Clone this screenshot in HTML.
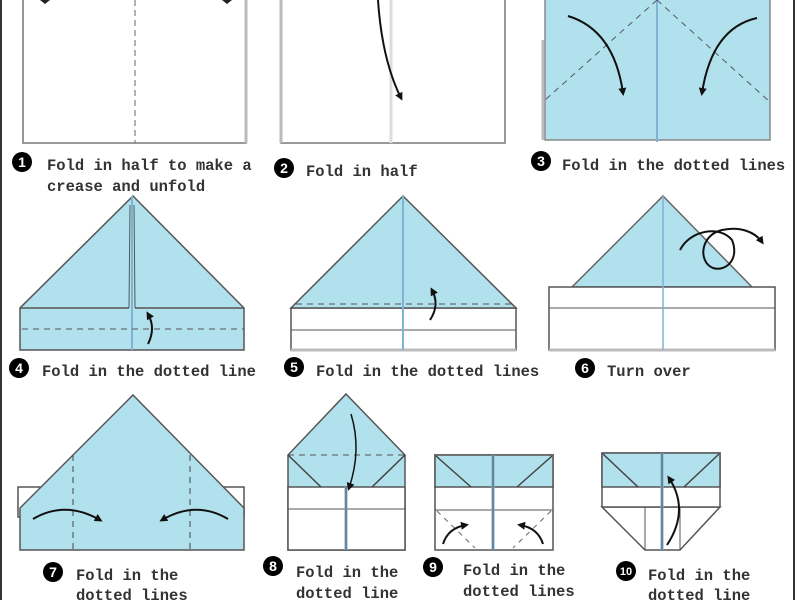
<!DOCTYPE html>
<html><head><meta charset="utf-8"><style>
html,body{margin:0;padding:0;background:#fff;width:800px;height:600px;overflow:hidden}
svg text{font-family:"Liberation Mono",monospace;font-size:15.5px;font-weight:bold;fill:#333}
svg text.n{fill:#fff;font-family:"Liberation Sans",sans-serif;font-size:14px;text-anchor:middle}
</style></head><body>
<svg width="800" height="600" viewBox="0 0 800 600" xmlns="http://www.w3.org/2000/svg">
<defs><marker id="a" markerWidth="8" markerHeight="8" refX="5" refY="4" orient="auto" markerUnits="userSpaceOnUse"><path d="M0,0 L8,4 L0,8 z" fill="#111"/></marker></defs>
<g stroke-linejoin="miter">
<line x1="1" y1="0" x2="1" y2="600" stroke="#333" stroke-width="2"/>
<line x1="794" y1="0" x2="794" y2="600" stroke="#333" stroke-width="2"/>

<!-- panel 1 -->
<rect x="23" y="-5" width="223" height="148" fill="#fff" stroke="#777" stroke-width="1.5"/>
<line x1="246" y1="0" x2="246" y2="143" stroke="#bbb" stroke-width="3"/>
<line x1="135" y1="0" x2="135" y2="143" stroke="#666" stroke-dasharray="6,4"/>
<path d="M40,0 L50,0 L45,4z" fill="#222"/><path d="M222,0 L232,0 L227,4z" fill="#222"/>
<circle cx="22" cy="162" r="10" fill="#000"/><text class="n" x="22" y="167">1</text>
<text x="47" y="170">Fold in half to make a</text>
<text x="47" y="191">crease and unfold</text>

<!-- panel 2 -->
<rect x="281" y="-5" width="224" height="148" fill="#fff" stroke="#777" stroke-width="1.5"/>
<line x1="281" y1="0" x2="281" y2="143" stroke="#bbb" stroke-width="3"/>
<line x1="391" y1="0" x2="391" y2="143" stroke="#ddd" stroke-width="3"/>
<path d="M378,0 Q382,60 401,98" fill="none" stroke="#111" stroke-width="2" marker-end="url(#a)"/>
<circle cx="284" cy="168" r="10" fill="#000"/><text class="n" x="284" y="173">2</text>
<text x="306" y="176">Fold in half</text>

<!-- panel 3 -->
<rect x="545" y="-5" width="225" height="145" fill="#b1e1ec" stroke="#888" stroke-width="1.5"/>
<line x1="543" y1="40" x2="543" y2="140" stroke="#bbb" stroke-width="3"/>
<line x1="657" y1="0" x2="657" y2="142" stroke="#7fb3d6" stroke-width="2"/>
<path d="M657,0 L545,100 M657,0 L770,102" stroke="#556" stroke-dasharray="6,5" fill="none"/>
<path d="M568,16 Q614,30 623,93" fill="none" stroke="#111" stroke-width="2" marker-end="url(#a)"/>
<path d="M757,18 Q712,28 702,93" fill="none" stroke="#111" stroke-width="2" marker-end="url(#a)"/>
<circle cx="541" cy="161" r="10" fill="#000"/><text class="n" x="541" y="166">3</text>
<text x="562" y="170">Fold in the dotted lines</text>

<!-- panel 4 -->
<path d="M133,196 L244,308 L244,350 L20,350 L20,308 z" fill="#b1e1ec" stroke="#555" stroke-width="1.5"/>
<line x1="20" y1="308" x2="129" y2="308" stroke="#555" stroke-width="1.5"/>
<line x1="135" y1="308" x2="244" y2="308" stroke="#555" stroke-width="1.5"/>
<path d="M129,308 L130,205 M135,308 L134,205" stroke="#555" fill="none"/>
<line x1="132" y1="196" x2="132" y2="350" stroke="#7fb3d6" stroke-width="2"/>
<line x1="22" y1="329" x2="244" y2="329" stroke="#555" stroke-dasharray="6,5"/>
<path d="M148,344 Q156,328 148,314" fill="none" stroke="#111" stroke-width="2" marker-end="url(#a)"/>
<circle cx="19" cy="368" r="10" fill="#000"/><text class="n" x="19" y="373">4</text>
<text x="42" y="376">Fold in the dotted line</text>

<!-- panel 5 -->
<rect x="291" y="308" width="225" height="42" fill="#fff" stroke="#555" stroke-width="1.5"/>
<line x1="291" y1="350" x2="516" y2="350" stroke="#bbb" stroke-width="3"/>
<line x1="291" y1="330" x2="516" y2="330" stroke="#555"/>
<path d="M403,196 L516,308 L291,308 z" fill="#b1e1ec" stroke="#555" stroke-width="1.5"/>
<line x1="403" y1="196" x2="403" y2="350" stroke="#7fb3d6" stroke-width="2"/>
<line x1="296" y1="304" x2="514" y2="304" stroke="#555" stroke-dasharray="6,5"/>
<path d="M430,320 Q440,305 432,290" fill="none" stroke="#111" stroke-width="2" marker-end="url(#a)"/>
<circle cx="294" cy="367" r="10" fill="#000"/><text class="n" x="294" y="372">5</text>
<text x="316" y="376">Fold in the dotted lines</text>

<!-- panel 6 -->
<path d="M663,196 L752,287 L572,287 z" fill="#b1e1ec" stroke="#666" stroke-width="1.5"/>
<rect x="549" y="287" width="226" height="63" fill="#fff" stroke="#555" stroke-width="1.5"/>
<line x1="549" y1="350" x2="775" y2="350" stroke="#bbb" stroke-width="3"/>
<line x1="549" y1="308" x2="775" y2="308" stroke="#555"/>
<line x1="663" y1="196" x2="663" y2="350" stroke="#7fb3d6" stroke-width="1.5"/>
<path d="M680,250 C690,230 720,225 732,240 C740,260 725,272 713,268 C698,262 700,235 722,230 C740,226 755,232 762,242" fill="none" stroke="#111" stroke-width="2" marker-end="url(#a)"/>
<circle cx="585" cy="368" r="10" fill="#000"/><text class="n" x="585" y="373">6</text>
<text x="607" y="376">Turn over</text>

<!-- panel 7 -->
<rect x="18" y="487" width="226" height="30" fill="#fff" stroke="#555" stroke-width="1.5"/>
<path d="M133,395 L244,508 L244,550 L20,550 L20,508 z" fill="#b1e1ec" stroke="#555" stroke-width="1.5"/>
<path d="M73,455 L73,550 M190,455 L190,550" stroke="#444" stroke-dasharray="6,5"/>
<path d="M33,519 Q65,500 100,520" fill="none" stroke="#111" stroke-width="2" marker-end="url(#a)"/>
<path d="M228,519 Q196,500 162,520" fill="none" stroke="#111" stroke-width="2" marker-end="url(#a)"/>
<circle cx="53" cy="572" r="10" fill="#000"/><text class="n" x="53" y="577">7</text>
<text x="76" y="580">Fold in the</text>
<text x="76" y="600">dotted lines</text>

<!-- panel 8 -->
<path d="M346,394 L405,455 L405,550 L288,550 L288,455 z" fill="#b1e1ec" stroke="#555" stroke-width="1.5"/>
<rect x="288" y="487" width="117" height="63" fill="#fff" stroke="#555" stroke-width="1.5"/>
<line x1="288" y1="509" x2="405" y2="509" stroke="#555"/>
<line x1="346" y1="487" x2="346" y2="550" stroke="#7fb3d6" stroke-width="3"/>
<line x1="346" y1="487" x2="346" y2="550" stroke="#555" stroke-width="1"/>
<line x1="288" y1="455" x2="405" y2="455" stroke="#555" stroke-dasharray="6,5"/>
<path d="M288,455 L321,487 M405,455 L372,487" stroke="#444" stroke-width="1.5"/>
<path d="M351,414 Q362,450 349,488" fill="none" stroke="#111" stroke-width="1.5" marker-end="url(#a)"/>
<circle cx="273" cy="566" r="10" fill="#000"/><text class="n" x="273" y="571">8</text>
<text x="296" y="577">Fold in the</text>
<text x="296" y="598">dotted line</text>

<!-- panel 9 -->
<rect x="435" y="455" width="118" height="95" fill="#fff" stroke="#555" stroke-width="1.5"/>
<rect x="435" y="455" width="118" height="32" fill="#b1e1ec" stroke="#555" stroke-width="1.5"/>
<line x1="435" y1="510" x2="553" y2="510" stroke="#555"/>
<line x1="493" y1="455" x2="493" y2="550" stroke="#7fb3d6" stroke-width="3"/>
<line x1="493" y1="455" x2="493" y2="550" stroke="#555" stroke-width="1"/>
<path d="M436,456 L471,487 M552,456 L517,487" stroke="#444" stroke-width="1.5"/>
<path d="M437,511 L475,548 M551,511 L513,548" stroke="#666" stroke-dasharray="5,5"/>
<path d="M443,544 Q448,528 466,525" fill="none" stroke="#111" stroke-width="2" marker-end="url(#a)"/>
<path d="M543,544 Q538,528 520,525" fill="none" stroke="#111" stroke-width="2" marker-end="url(#a)"/>
<circle cx="433" cy="567" r="10" fill="#000"/><text class="n" x="433" y="572">9</text>
<text x="463" y="575">Fold in the</text>
<text x="463" y="596">dotted lines</text>

<!-- panel 10 -->
<path d="M602,507 L645,550 L680,550 L720,507 z" fill="#fff" stroke="#555" stroke-width="1.5"/>
<rect x="602" y="453" width="118" height="54" fill="#fff" stroke="#555" stroke-width="1.5"/>
<rect x="602" y="453" width="118" height="34" fill="#b1e1ec" stroke="#555" stroke-width="1.5"/>
<path d="M645,507 L645,550 M680,507 L680,550" stroke="#555"/>
<line x1="602" y1="507" x2="720" y2="507" stroke="#555" stroke-dasharray="5,3"/>
<line x1="662" y1="453" x2="662" y2="550" stroke="#7fb3d6" stroke-width="3"/>
<line x1="662" y1="453" x2="662" y2="550" stroke="#555" stroke-width="1"/>
<path d="M603,454 L638,487 M719,454 L684,487" stroke="#444" stroke-width="1.5"/>
<path d="M667,545 Q690,510 669,478" fill="none" stroke="#111" stroke-width="2" marker-end="url(#a)"/>
<circle cx="626" cy="571" r="10" fill="#000"/><text class="n" x="626" y="575" style="font-size:11px">10</text>
<text x="648" y="580">Fold in the</text>
<text x="648" y="600">dotted line</text>
</g>
</svg>
</body></html>
